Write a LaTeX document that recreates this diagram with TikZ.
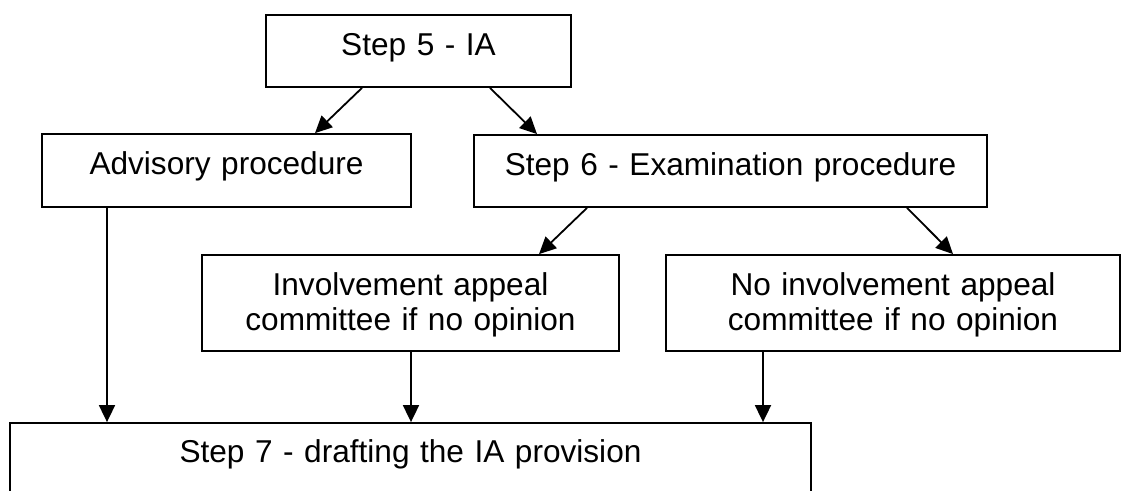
\documentclass[tikz,border=0pt]{standalone}
\usepackage{fontspec}
\setmainfont{Liberation Sans}
\usetikzlibrary{arrows.meta, positioning, calc}

\tikzset{
    box/.style={rectangle,draw=black,line width=1.8pt,inner sep=0pt,align=center,
        font=\fontsize{31.6}{35}\selectfont,text height=40pt},
    arr/.style={-{Triangle[length=17pt,width=16pt]},line width=1.8pt}
}

\begin{document}
\begin{tikzpicture}[x=1pt,y=-1pt]
    \clip (0,0) rectangle (1121,490);

    % Step 5
    \node[box,text width=305pt,text depth=32pt] (step5) at (418.5,51) {Step 5 - IA};

    % Procedure
    \node[box,text width=369pt,text depth=33pt] (advisory) at (226.5,170.5) {Advisory procedure};
    \node[box,text width=513pt,text depth=32pt] (step6) at (730.5,171) {Step 6 - Examination procedure};

    \draw[arr] ([xshift=-56.5pt]step5.south) -- ([xshift=88.5pt]advisory.north);
    \draw[arr] ([xshift=71.5pt]step5.south) -- ([xshift=-193.5pt]step6.north);

    % Appeal committee
    \node[box,text width=417pt,text depth=56pt] (appeal) at (410.5,303) {Involvement appeal\\committee if no opinion};
    \node[box,text width=454pt,text depth=56pt] (noappeal) at (893,303) {No involvement appeal\\committee if no opinion};

    \draw[arr] ([xshift=-143.5pt]step6.south) -- ([xshift=128.5pt]appeal.north);
    \draw[arr] ([xshift=176.5pt]step6.south) -- ([xshift=60pt]noappeal.north);

    % Step 7
    \node[box,text width=801pt,text height=39pt,text depth=51pt] (step7) at (410.5,468) {Step 7 - drafting the IA provision};

    \coordinate (advout) at ([xshift=-119.5pt]advisory.south);
    \coordinate (noappout) at ([xshift=-130pt]noappeal.south);
    \draw[arr] (advout) -- (advout |- step7.north);
    \draw[arr] ([xshift=0.5pt]appeal.south) -- ([xshift=0.5pt]appeal.south |- step7.north);
    \draw[arr] (noappout) -- (noappout |- step7.north);
\end{tikzpicture}
\end{document}
